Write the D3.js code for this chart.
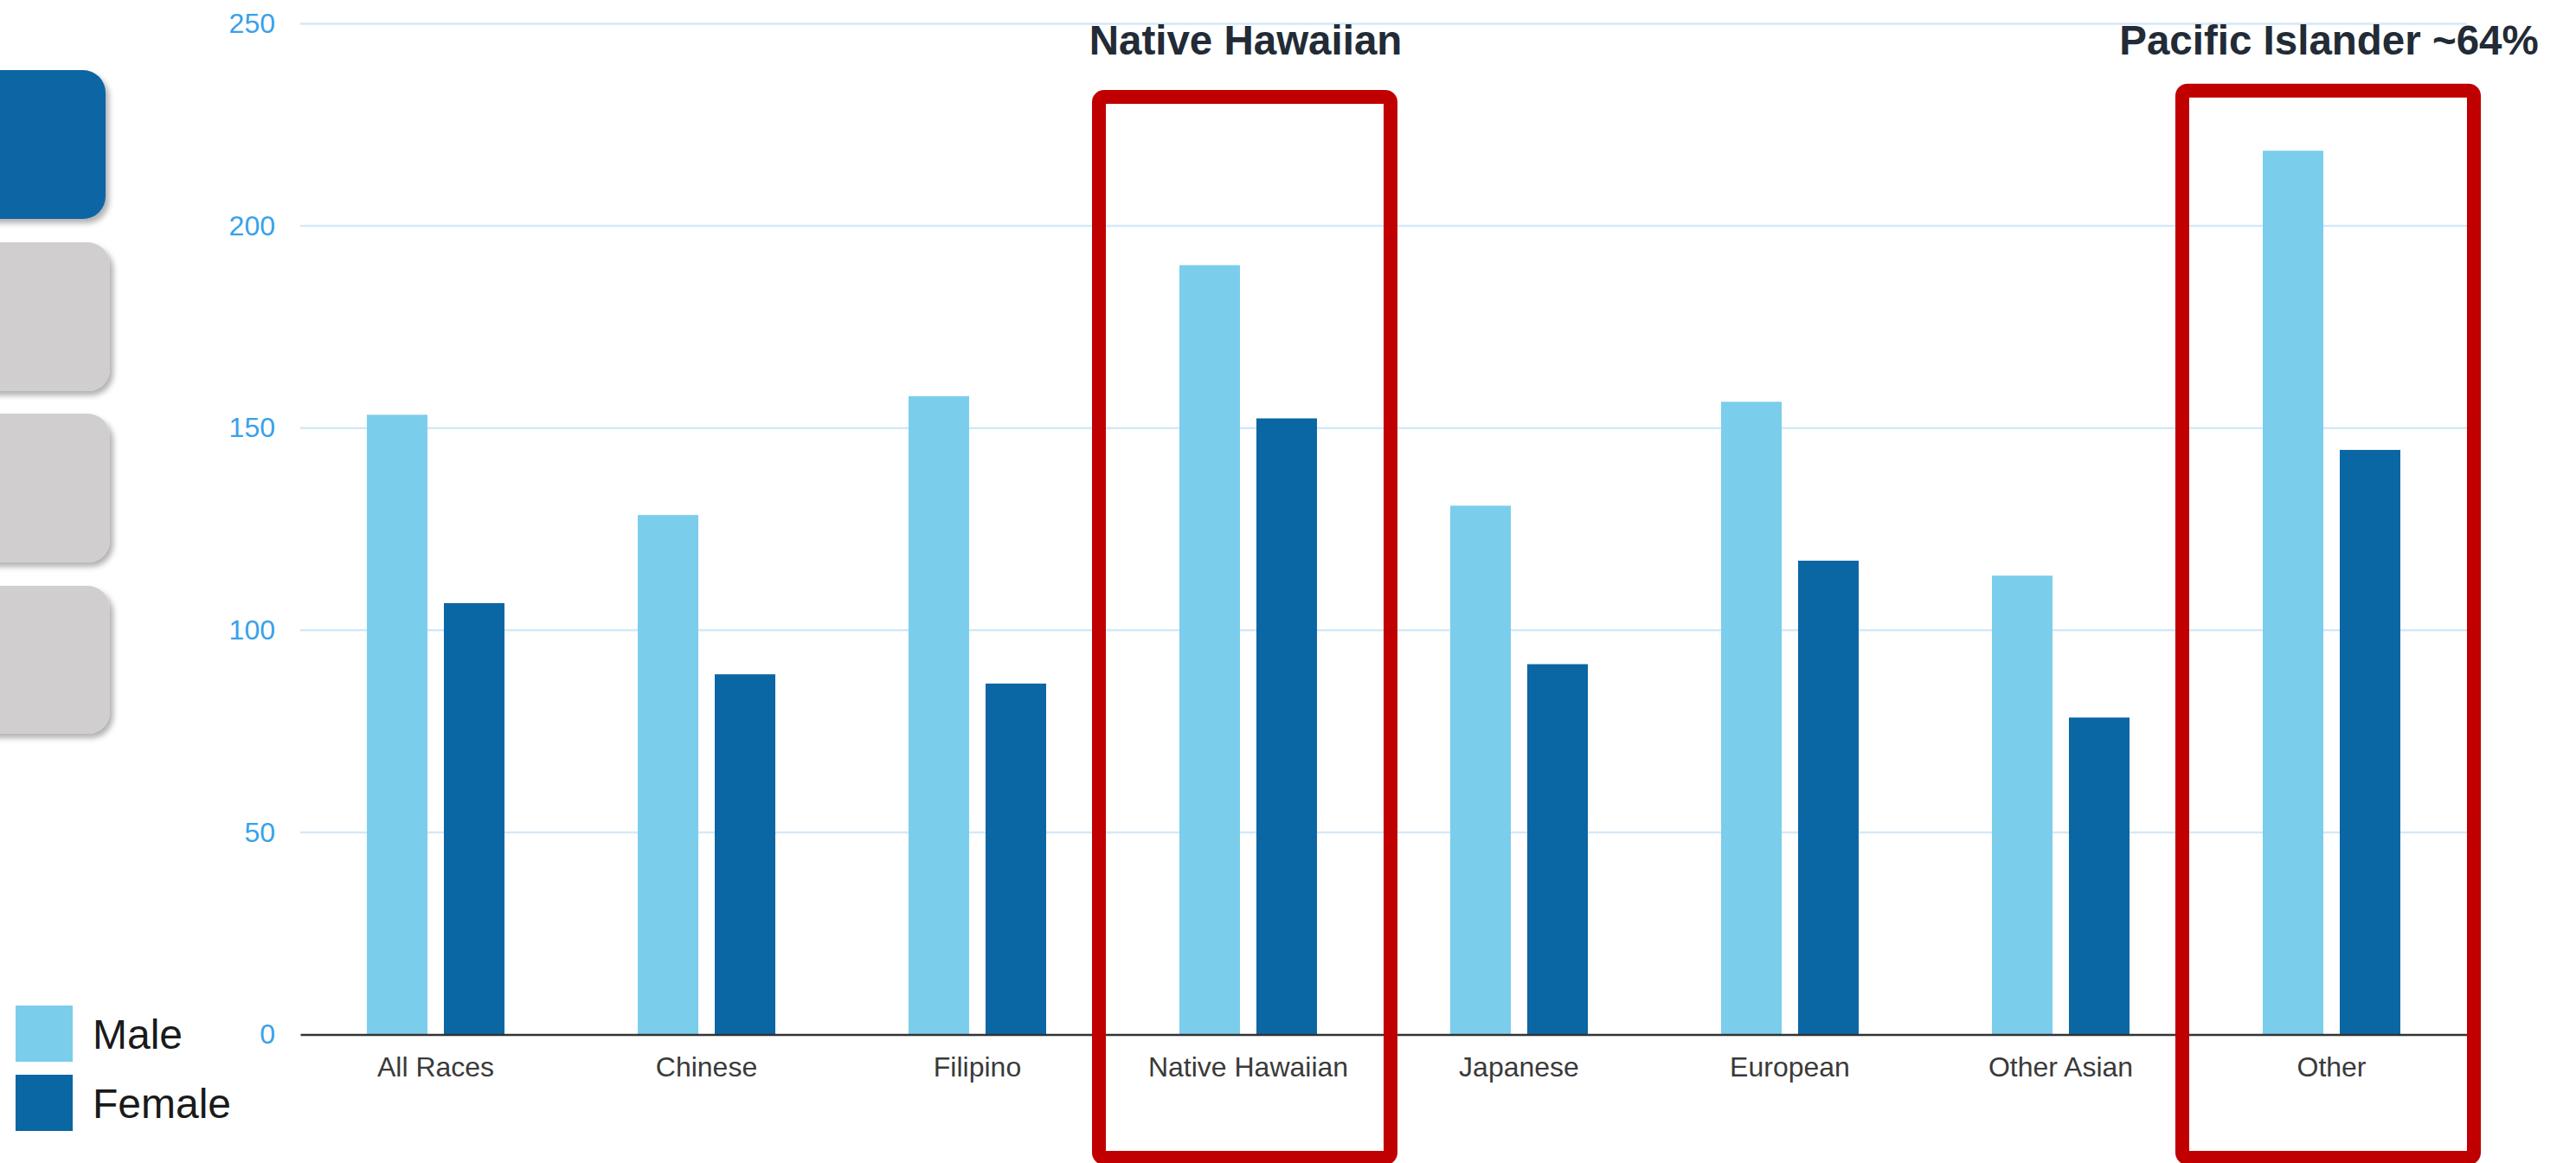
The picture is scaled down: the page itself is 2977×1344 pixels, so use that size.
<!DOCTYPE html>
<html>
<head>
<meta charset="utf-8">
<script src="https://cdn.jsdelivr.net/npm/d3@7"></script>
<style>
  html, body { margin: 0; padding: 0; background: #fff; }
  svg { display: block; font-family: "Liberation Sans", Arial, sans-serif; }
</style>
</head>
<body>
<div id="chart"></div>
<script>
const categories = ["All Races", "Chinese", "Filipino", "Native Hawaiian", "Japanese", "European", "Other Asian", "Other"];
const series = ["Male", "Female"];
const maleValues = [153.3, 128.5, 157.9, 190.3, 130.8, 156.5, 113.5, 218.6];
const femaleValues = [106.7, 89.1, 86.8, 152.4, 91.6, 117.2, 78.4, 144.6];
const yTicks = [0, 50, 100, 150, 200, 250];
const highlights = [
  { category: "Native Hawaiian", title: "Native Hawaiian", top: 112 },
  { category: "Other", title: "Pacific Islander ~64%", top: 104.7 }
];

const width = 2977;
const height = 1344;
const colors = { Male: "#7bcdec", Female: "#0b66a4" };

const svg = d3.select("#chart")
  .append("svg")
  .attr("width", width)
  .attr("height", height);

const defs = svg.append("defs");
defs.append("filter")
  .attr("id", "shadow")
  .attr("x", "-20%").attr("y", "-20%")
  .attr("width", "150%").attr("height", "150%")
  .append("feDropShadow")
  .attr("dx", 4).attr("dy", 5)
  .attr("stdDeviation", 3)
  .attr("flood-color", "#000")
  .attr("flood-opacity", 0.3);

// side buttons (decorative)
const buttons = [
  { y: 81, h: 172, w: 122, fill: "#0b66a4" },
  { y: 280, h: 172, w: 127, fill: "#d0cecf" },
  { y: 478, h: 172, w: 127, fill: "#d0cecf" },
  { y: 677, h: 171, w: 127, fill: "#d0cecf" }
];
svg.append("g").selectAll("rect")
  .data(buttons)
  .join("rect")
  .attr("x", -40)
  .attr("y", (d) => d.y)
  .attr("width", (d) => d.w + 40)
  .attr("height", (d) => d.h)
  .attr("rx", 26)
  .attr("fill", (d) => d.fill)
  .attr("filter", "url(#shadow)");

const x = d3.scaleBand()
  .domain(categories)
  .range([347, 2851])
  .padding(0);

const xSub = d3.scaleBand()
  .domain(series)
  .range([77, 236])
  .paddingInner(19 / 89)
  .paddingOuter(0);

const y = d3.scaleLinear()
  .domain([0, 250])
  .range([1195.5, 27.5]);

// gridlines
svg.append("g")
  .selectAll("line")
  .data(yTicks.filter((t) => t > 0))
  .join("line")
  .attr("x1", 347)
  .attr("x2", 2851)
  .attr("y1", (d) => y(d))
  .attr("y2", (d) => y(d))
  .attr("stroke", "#d3e9f9")
  .attr("stroke-width", 2.5);

// y labels
const yAxis = d3.axisLeft(y).tickValues(yTicks).tickSize(0).tickPadding(0);
const yG = svg.append("g")
  .attr("transform", "translate(318,0)")
  .call(yAxis);
yG.select(".domain").remove();
yG.selectAll("text")
  .attr("fill", "#38a1ea")
  .style("font-size", "32px")
  .style("font-family", "'Liberation Sans', Arial, sans-serif");

// bars
const rows = categories.map((c, i) => ({ category: c, Male: maleValues[i], Female: femaleValues[i] }));
const groups = svg.append("g")
  .selectAll("g")
  .data(rows)
  .join("g")
  .attr("transform", (d) => `translate(${x(d.category)},0)`);

groups.selectAll("rect")
  .data((d) => series.map((s) => ({ key: s, value: d[s] })))
  .join("rect")
  .attr("x", (d) => xSub(d.key))
  .attr("y", (d) => y(d.value))
  .attr("width", xSub.bandwidth())
  .attr("height", (d) => y(0) - y(d.value))
  .attr("fill", (d) => colors[d.key]);

// x axis
const xAxis = d3.axisBottom(x).tickSize(0).tickPadding(0);
const xG = svg.append("g")
  .attr("transform", `translate(0,${y(0)})`)
  .call(xAxis);
xG.select(".domain")
  .attr("stroke", "#333")
  .attr("stroke-width", 2.5);
xG.selectAll("text")
  .attr("fill", "#3a3a3a")
  .attr("dy", 0)
  .attr("y", 48)
  .style("font-size", "32px")
  .style("font-family", "'Liberation Sans', Arial, sans-serif");

// highlight boxes
const hl = svg.append("g");
hl.selectAll("rect")
  .data(highlights)
  .join("rect")
  .attr("x", (d) => x(d.category) + x.bandwidth() / 2 - 4 - 168.5)
  .attr("y", (d) => d.top)
  .attr("width", 337)
  .attr("height", (d) => 1338 - d.top)
  .attr("rx", 6)
  .attr("fill", "none")
  .attr("stroke", "#c00000")
  .attr("stroke-width", 16);

hl.selectAll("text")
  .data(highlights)
  .join("text")
  .attr("x", (d) => x(d.category) + x.bandwidth() / 2 - 3)
  .attr("y", 63)
  .attr("text-anchor", "middle")
  .attr("fill", "#222b36")
  .style("font-size", "47.5px")
  .style("font-weight", "bold")
  .text((d) => d.title);

// legend
const legend = svg.append("g")
  .selectAll("g")
  .data(series)
  .join("g")
  .attr("transform", (d, i) => `translate(18,${1162 + i * 80})`);
legend.append("rect")
  .attr("width", 66)
  .attr("height", 65)
  .attr("fill", (d) => colors[d]);
legend.append("text")
  .attr("x", 89)
  .attr("y", 50)
  .attr("fill", "#1a1a1a")
  .style("font-size", "48px")
  .text((d) => d);
</script>
</body>
</html>
